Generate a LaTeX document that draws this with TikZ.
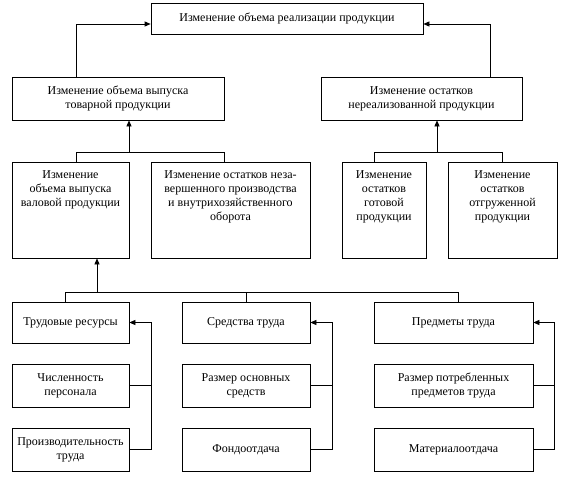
\documentclass[tikz,border=0pt]{standalone}
\usepackage{fontspec}
\setmainfont{Liberation Serif}
\newfontfamily\diagfont{Liberation Serif}
\usetikzlibrary{arrows.meta}
\begin{document}
\begin{tikzpicture}[x=1pt,y=-1pt,
  box/.style={draw, line width=0.7pt, rectangle, inner sep=0pt, align=center, font=\diagfont\fontsize{12}{14}\selectfont},
  txt/.style={inner sep=0pt, align=center, font=\diagfont\fontsize{12}{14}\selectfont},
  ln/.style={line width=0.7pt},
  arr/.style={line width=0.7pt, -{Triangle[width=5pt,length=6pt]}}]
\useasboundingbox (0,0) rectangle (565,479);
\fill[white] (0,0) rectangle (565,479);

% level 1
\node[box, minimum width=272pt, minimum height=31pt] (T) at (287,18.5) {Изменение объема реализации продукции};

% level 2
\node[box, minimum width=212pt, minimum height=43pt] (L2a) at (118,98.5) {Изменение объема выпуска\\товарной продукции};
\node[box, minimum width=201pt, minimum height=43pt] (L2b) at (421.5,98.5) {Изменение остатков\\нереализованной продукции};

% level 3
\node[box, minimum width=117pt, minimum height=96pt] (L3a) at (70.5,210) {};
\node[txt, anchor=north] (t3a) at ([yshift=-9pt]L3a.north) {Изменение\\объема выпуска\\валовой продукции};
\node[box, minimum width=159pt, minimum height=96pt] (L3b) at (230.5,210) {};
\node[txt, anchor=north] (t3b) at ([yshift=-9pt]L3b.north) {Изменение остатков неза-\\вершенного производства\\и внутрихозяйственного\\оборота};
\node[box, minimum width=84pt, minimum height=96pt] (L3c) at (384,210) {};
\node[txt, anchor=north] (t3c) at ([yshift=-9pt]L3c.north) {Изменение\\остатков\\готовой\\продукции};
\node[box, minimum width=109pt, minimum height=96pt] (L3d) at (502.5,210) {};
\node[txt, anchor=north] (t3d) at ([yshift=-9pt]L3d.north) {Изменение\\остатков\\отгруженной\\продукции};

% level 4
\node[box, minimum width=117pt, minimum height=41pt] (A1) at (70.5,322.5) {Трудовые ресурсы};
\node[box, minimum width=117pt, minimum height=43pt] (A2) at (70.5,385.5) {Численность\\персонала};
\node[box, minimum width=117pt, minimum height=43pt] (A3) at (70.5,449.5) {Производительность\\труда};
\node[box, minimum width=128pt, minimum height=41pt] (B1) at (246,322.5) {Средства труда};
\node[box, minimum width=128pt, minimum height=43pt] (B2) at (246,385.5) {Размер основных\\средств};
\node[box, minimum width=128pt, minimum height=43pt] (B3) at (246,449.5) {Фондоотдача};
\node[box, minimum width=159pt, minimum height=41pt] (C1) at (453.5,322.5) {Предметы труда};
\node[box, minimum width=159pt, minimum height=43pt] (C2) at (453.5,385.5) {Размер потребленных\\предметов труда};
\node[box, minimum width=159pt, minimum height=43pt] (C3) at (453.5,449.5) {Материалоотдача};

% junction coordinates
\coordinate (jA) at (76,24);
\coordinate (jB) at (490,24);
\coordinate (k1) at (76,152);
\coordinate (k2) at (224,152);
\coordinate (k3) at (129,152);
\coordinate (m1) at (374,152);
\coordinate (m2) at (502,152);
\coordinate (m3) at (437,152);
\coordinate (n1) at (65,292);
\coordinate (n2) at (246,292);
\coordinate (n3) at (458,292);
\coordinate (n4) at (97,292);
\coordinate (f1) at (151,0);
\coordinate (g1) at (332,0);
\coordinate (h1) at (554,0);

% level 2 -> level 1
\draw[arr] (L2a.north -| jA) -- (jA) -- (T.west |- jA);
\draw[arr] (L2b.north -| jB) -- (jB) -- (T.east |- jB);

% level 3 -> level 2
\draw[ln] (L3a.north -| k1) -- (k1) -- (k2) -- (L3b.north -| k2);
\draw[arr] (k3) -- (L2a.south -| k3);
\draw[ln] (L3c.north -| m1) -- (m1) -- (m2) -- (L3d.north -| m2);
\draw[arr] (m3) -- (L2b.south -| m3);

% level 4 -> level 3
\draw[ln] (A1.north -| n1) -- (n1) -- (n3) -- (C1.north -| n3);
\draw[ln] (n2) -- (B1.north);
\draw[arr] (n4) -- (L3a.south -| n4);

% feedback lines
\draw[arr] (A3.east) -- (A3.east -| f1) -- (A1.east -| f1) -- (A1.east);
\draw[ln] (A2.east) -- (A2.east -| f1);
\draw[arr] (B3.east) -- (B3.east -| g1) -- (B1.east -| g1) -- (B1.east);
\draw[ln] (B2.east) -- (B2.east -| g1);
\draw[arr] (C3.east) -- (C3.east -| h1) -- (C1.east -| h1) -- (C1.east);
\draw[ln] (C2.east) -- (C2.east -| h1);
\end{tikzpicture}
\end{document}
